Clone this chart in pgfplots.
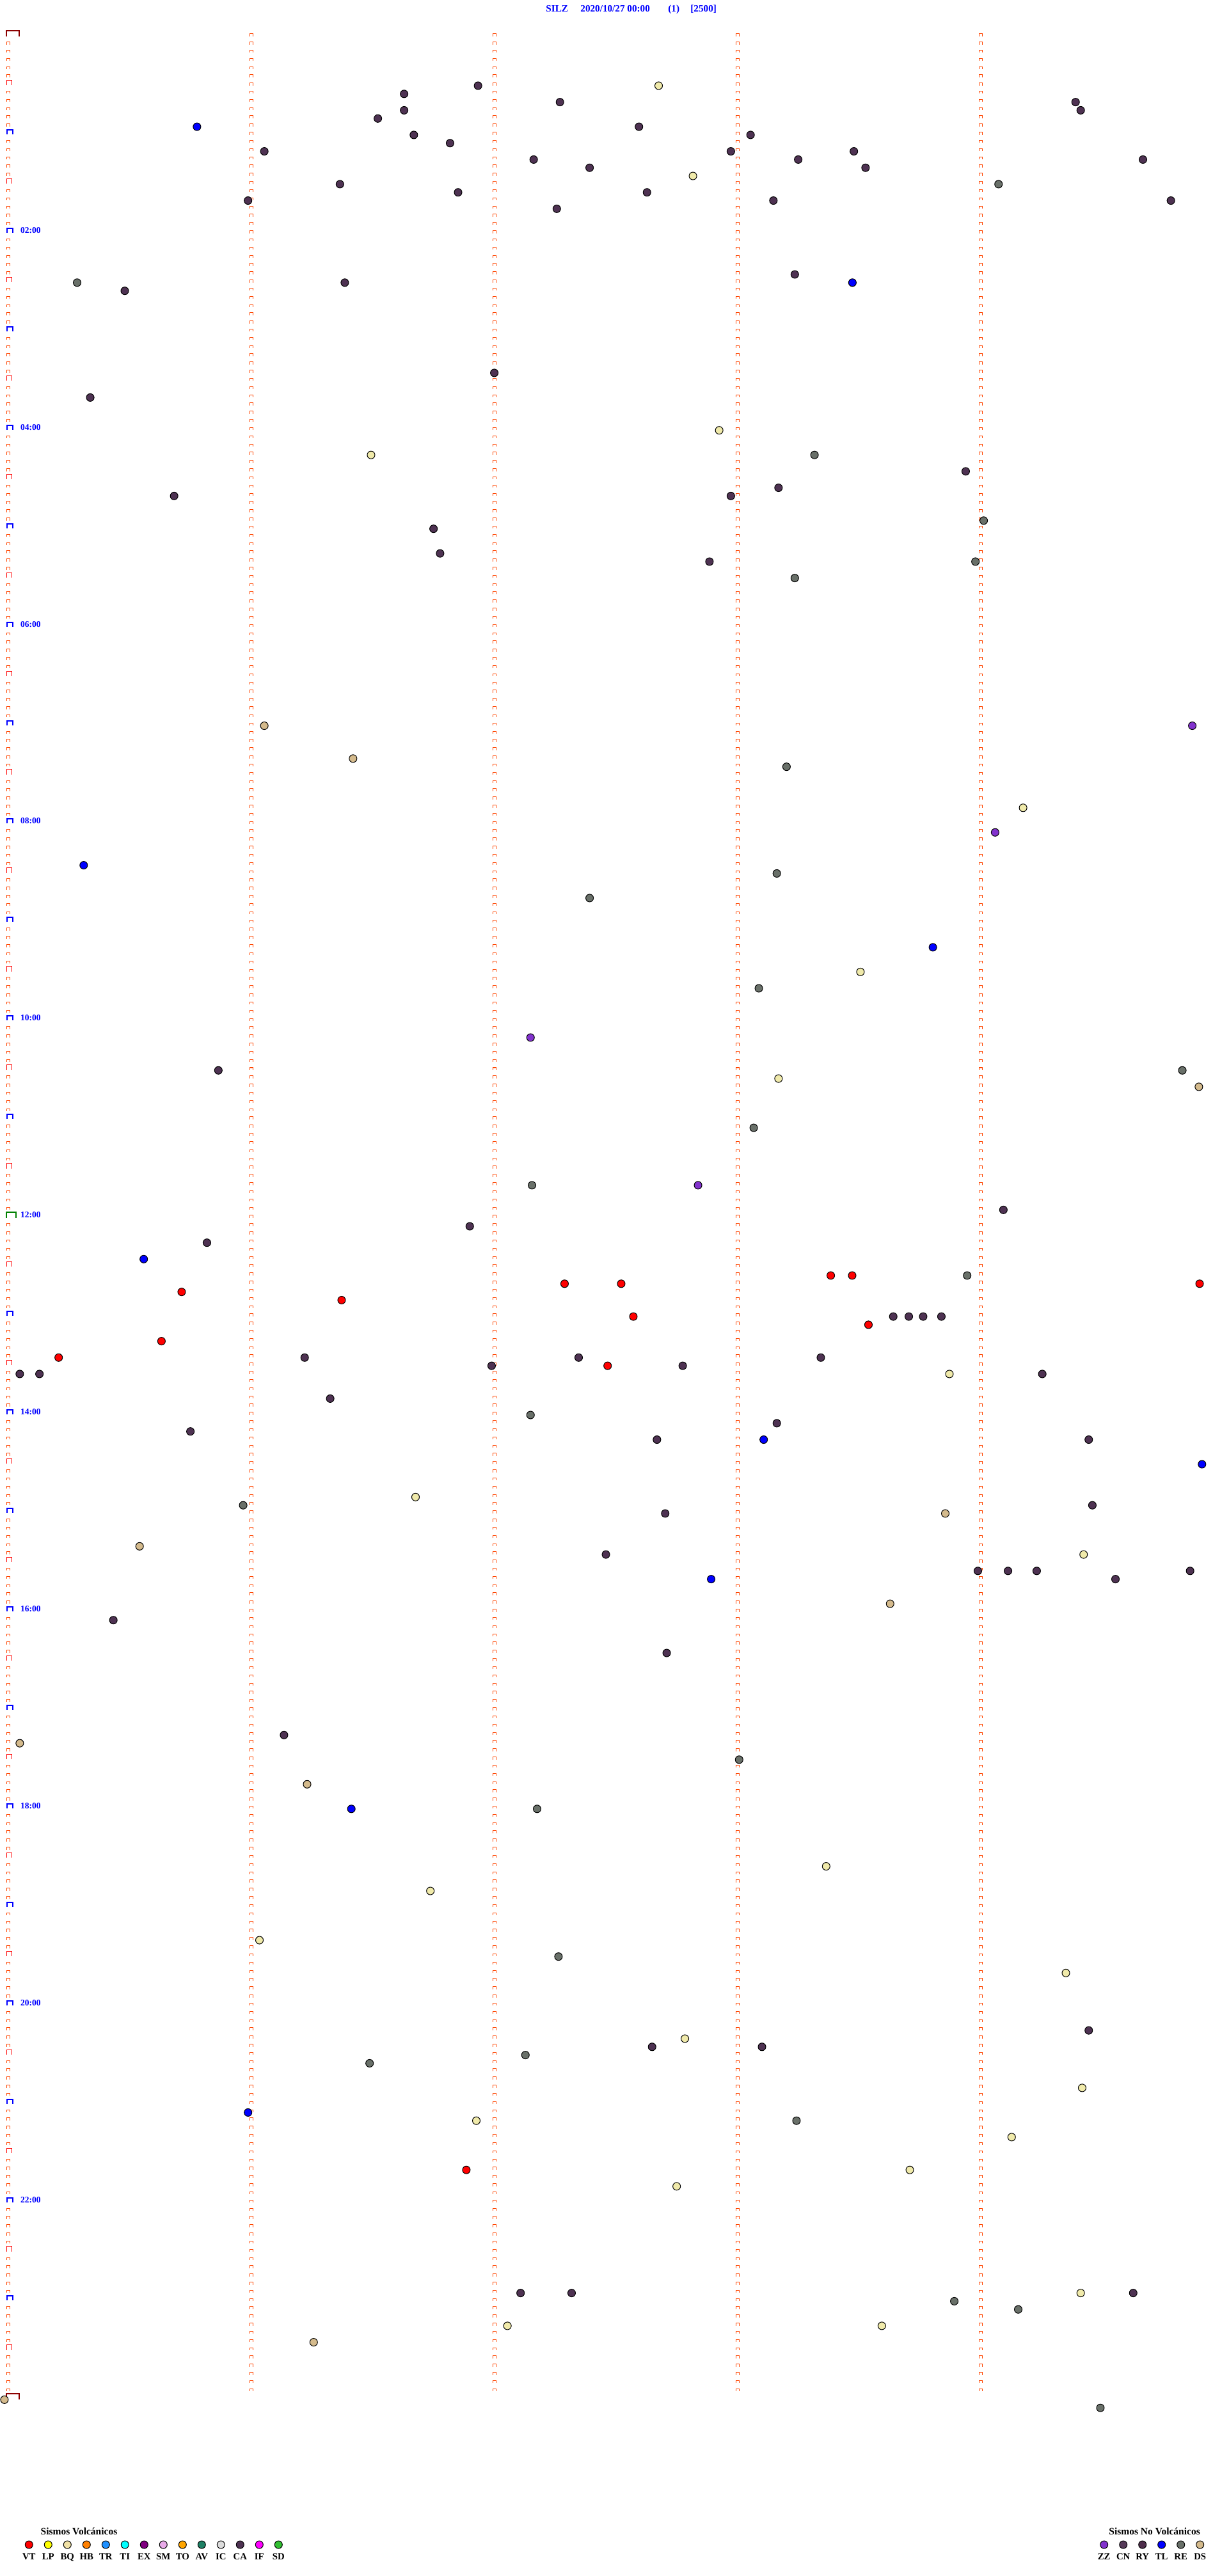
\documentclass[border=0pt]{standalone}
\usepackage{pgfplots}
\pgfplotsset{compat=1.18}
\usepackage{fontspec}
\setmainfont{Liberation Serif}
\definecolor{ca}{RGB}{78,50,82}
\definecolor{re}{RGB}{105,112,105}
\definecolor{tl}{RGB}{0,0,255}
\definecolor{bq}{RGB}{240,234,170}
\definecolor{ds}{RGB}{212,186,140}
\definecolor{vt}{RGB}{255,0,0}
\definecolor{zz}{RGB}{130,50,205}
\definecolor{lp}{RGB}{255,255,0}
\definecolor{bql}{RGB}{240,225,165}
\definecolor{hb}{RGB}{255,128,0}
\definecolor{tr}{RGB}{30,144,255}
\definecolor{ti}{RGB}{0,255,255}
\definecolor{ex}{RGB}{128,0,128}
\definecolor{sm}{RGB}{232,170,232}
\definecolor{to}{RGB}{255,165,0}
\definecolor{av}{RGB}{30,128,100}
\definecolor{ic}{RGB}{220,220,220}
\definecolor{ifc}{RGB}{255,0,255}
\definecolor{sd}{RGB}{50,190,50}
\definecolor{cn}{RGB}{85,58,88}
\definecolor{ry}{RGB}{78,45,75}
\definecolor{markorange}{RGB}{255,69,0}
\definecolor{mdarkred}{RGB}{140,0,0}
\definecolor{mgreen}{RGB}{0,128,0}
\definecolor{mblue}{RGB}{0,0,255}
\definecolor{mred}{RGB}{255,0,0}
% row markers of the first column
\pgfdeclareplotmark{hourmk}{%
  \pgfsetfillcolor{white}\pgfpathrectangle{\pgfpoint{-1.75pt}{0pt}}{\pgfpoint{5.75pt}{4.5pt}}\pgfusepath{fill}%
  \pgfsetstrokecolor{mblue}\pgfsetlinewidth{1pt}%
  \pgfpathmoveto{\pgfpoint{-1.25pt}{0.5pt}}\pgfpathlineto{\pgfpoint{-1.25pt}{4pt}}%
  \pgfpathlineto{\pgfpoint{3.5pt}{4pt}}\pgfpathlineto{\pgfpoint{3.5pt}{0.5pt}}\pgfusepath{stroke}}
\pgfdeclareplotmark{halfmk}{%
  \pgfsetfillcolor{white}\pgfpathrectangle{\pgfpoint{-1.75pt}{0pt}}{\pgfpoint{4.75pt}{4.5pt}}\pgfusepath{fill}%
  \pgfsetstrokecolor{mred}\pgfsetlinewidth{0.5pt}%
  \pgfpathmoveto{\pgfpoint{-1.25pt}{0.35pt}}\pgfpathlineto{\pgfpoint{-1.25pt}{4.25pt}}%
  \pgfpathlineto{\pgfpoint{2.75pt}{4.25pt}}\pgfpathlineto{\pgfpoint{2.75pt}{0.35pt}}\pgfusepath{stroke}}
\pgfdeclareplotmark{noonmk}{%
  \pgfsetfillcolor{white}\pgfpathrectangle{\pgfpoint{-2pt}{0pt}}{\pgfpoint{8.5pt}{5pt}}\pgfusepath{fill}%
  \pgfsetstrokecolor{mgreen}\pgfsetlinewidth{1pt}%
  \pgfpathmoveto{\pgfpoint{-1.5pt}{0pt}}\pgfpathlineto{\pgfpoint{-1.5pt}{4.5pt}}%
  \pgfpathlineto{\pgfpoint{5.85pt}{4.5pt}}\pgfpathlineto{\pgfpoint{5.85pt}{0pt}}\pgfusepath{stroke}}
\pgfdeclareplotmark{daymk}{%
  \pgfsetfillcolor{white}\pgfpathrectangle{\pgfpoint{-2pt}{0pt}}{\pgfpoint{11pt}{5pt}}\pgfusepath{fill}%
  \pgfsetstrokecolor{mdarkred}\pgfsetlinewidth{1pt}%
  \pgfpathmoveto{\pgfpoint{-1.5pt}{0pt}}\pgfpathlineto{\pgfpoint{-1.5pt}{4.5pt}}%
  \pgfpathlineto{\pgfpoint{8.5pt}{4.5pt}}\pgfpathlineto{\pgfpoint{8.5pt}{0pt}}\pgfusepath{stroke}}
\pgfplotsset{
  dot/.style={only marks, mark=*, mark size=3pt, mark options={draw=black, line width=0.5pt, fill=#1}},
  colA/.style={draw=markorange, line width=3pt, dash pattern=on 2.25pt off 4.16375pt, mark=none},
  colB/.style={draw=white, line width=2pt, dash pattern=on 1.75pt off 4.66375pt, dash phase=5.91375pt, mark=none},
}
\begin{document}
\begin{tikzpicture}
\begin{axis}[
  width=960pt, height=2013.5pt, scale only axis,
  xmin=-0.034211, xmax=5.018421,
  ymin=-4.4436, ymax=309.49, y dir=reverse,
  hide axis, clip=false,
]
\path (axis cs:-0.034211,-4.4436) rectangle (axis cs:5.018421,309.49);
% column guides (one marker per 5-minute row)
\addplot[colA] coordinates {(0,-0.374) (0,287.6)};
\addplot[colB] coordinates {(0,-0.374) (0,287.6)};
\addplot[colA] coordinates {(1,-0.374) (1,287.6)};
\addplot[colB] coordinates {(1,-0.374) (1,287.6)};
\addplot[colA] coordinates {(2,-0.374) (2,287.6)};
\addplot[colB] coordinates {(2,-0.374) (2,287.6)};
\addplot[colA] coordinates {(3,-0.374) (3,287.6)};
\addplot[colB] coordinates {(3,-0.374) (3,287.6)};
\addplot[colA] coordinates {(4,-0.374) (4,287.6)};
\addplot[colB] coordinates {(4,-0.374) (4,287.6)};
% hour / half-hour markers
\addplot[only marks, mark=halfmk] coordinates {(0,6) (0,18) (0,30) (0,42) (0,54) (0,66) (0,78) (0,90) (0,102) (0,114) (0,126) (0,138) (0,150) (0,162) (0,174) (0,186) (0,198) (0,210) (0,222) (0,234) (0,246) (0,258) (0,270) (0,282)};
\addplot[only marks, mark=hourmk] coordinates {(0,12) (0,24) (0,36) (0,48) (0,60) (0,72) (0,84) (0,96) (0,108) (0,120) (0,132) (0,156) (0,168) (0,180) (0,192) (0,204) (0,216) (0,228) (0,240) (0,252) (0,264) (0,276)};
\addplot[only marks, mark=noonmk] coordinates {(0,144)};
\addplot[only marks, mark=daymk] coordinates {(0,0) (0,288)};
% hour labels
\begin{scope}[every node/.style={anchor=base west, inner sep=0pt, text=mblue, font=\fontsize{6.75pt}{8pt}\selectfont\bfseries}]
\node at (axis cs:0.0492,23.96) {02:00};
\node at (axis cs:0.0492,47.96) {04:00};
\node at (axis cs:0.0492,71.96) {06:00};
\node at (axis cs:0.0492,95.96) {08:00};
\node at (axis cs:0.0492,119.96) {10:00};
\node at (axis cs:0.0492,143.96) {12:00};
\node at (axis cs:0.0492,167.96) {14:00};
\node at (axis cs:0.0492,191.96) {16:00};
\node at (axis cs:0.0492,215.96) {18:00};
\node at (axis cs:0.0492,239.96) {20:00};
\node at (axis cs:0.0492,263.96) {22:00};
\end{scope}
% title
\begin{scope}[every node/.style={anchor=base west, inner sep=0pt, text=mblue, font=\fontsize{7.6pt}{9pt}\selectfont\bfseries}]
\node at (axis cs:2.2105,-3.04) {SILZ};
\node at (axis cs:2.3526,-3.04) {2020/10/27 00:00};
\node at (axis cs:2.7132,-3.04) {(1)};
\node at (axis cs:2.8053,-3.04) {[2500]};
\end{scope}
% events: x = minute within the 5-minute row, y = row number (5-minute rows from 00:00)
\addplot[dot=ca] coordinates {
(1.932,6) (1.628,7) (2.269,8) (4.390,8) (1.628,9) (4.411,9) (1.520,10) (2.594,11)
(1.668,12) (3.053,12) (1.817,13) (1.053,14) (2.972,14) (3.478,14) (2.161,15) (3.249,15)
(4.667,15) (2.391,16) (3.526,16) (1.364,18) (1.850,19) (2.627,19) (0.986,20) (3.147,20)
(4.782,20) (2.256,21) (3.235,29) (1.384,30) (0.479,31) (1.999,41) (0.337,44) (3.938,53)
(3.168,55) (0.682,56) (2.972,56) (1.749,60) (1.776,63) (2.884,64) (0.864,126) (4.093,143)
(1.898,145) (0.817,147) (3.640,156) (3.704,156) (3.763,156) (3.838,156) (1.219,161) (2.346,161)
(3.342,161) (1.988,162) (2.774,162) (0.047,163) (0.128,163) (4.253,163) (1.324,166) (3.161,169)
(0.749,170) (2.668,171) (4.444,171) (4.459,179) (2.702,180) (2.458,185) (3.988,187) (4.112,187)
(4.230,187) (4.861,187) (4.554,188) (0.432,193) (2.708,197) (1.134,207) (4.444,243) (2.648,245)
(3.100,245) (2.107,275) (2.317,275) (4.627,275)};
\addplot[dot=re] coordinates {
(4.073,18) (0.283,30) (3.316,51) (4.012,59) (3.978,64) (3.235,66) (3.201,89) (3.161,102)
(2.391,105) (3.087,116) (4.829,126) (3.066,133) (2.154,140) (3.944,151) (2.148,168) (0.966,179)
(3.006,210) (2.175,216) (2.263,234) (2.127,246) (1.486,247) (3.242,254) (3.891,276) (4.154,277)
(4.492,289)};
\addplot[dot=tl] coordinates {
(0.776,11) (3.472,30) (0.310,101) (3.803,111) (0.557,149) (3.107,171) (4.910,174) (2.891,188)
(1.411,216) (0.986,253)};
\addplot[dot=bq] coordinates {
(2.675,6) (2.816,17) (2.924,48) (1.492,51) (4.174,94) (3.505,114) (3.168,127) (3.871,163)
(1.675,178) (4.423,185) (3.364,223) (1.736,226) (1.033,232) (4.350,236) (2.783,244) (4.417,250)
(1.925,254) (4.127,256) (3.708,260) (2.749,262) (4.411,275) (2.053,279) (3.593,279)};
\addplot[dot=ds] coordinates {
(1.053,84) (1.418,88) (4.897,128) (3.854,180) (0.540,184) (3.627,191) (0.047,208) (1.229,213)
(1.256,281) (-0.016,288)};
\addplot[dot=vt] coordinates {
(3.383,151) (3.471,151) (2.288,152) (2.521,152) (4.900,152) (0.713,153) (1.371,154) (2.571,156)
(3.538,157) (0.630,159) (0.207,161) (2.465,162) (1.884,260)};
\addplot[dot=zz] coordinates {(4.870,84) (4.059,97) (2.148,122) (2.837,140)};
% legend
\addplot[dot=vt] coordinates {(0.0850,305.67)};
\addplot[dot=lp] coordinates {(0.1639,305.67)};
\addplot[dot=bql] coordinates {(0.2429,305.67)};
\addplot[dot=hb] coordinates {(0.3218,305.67)};
\addplot[dot=tr] coordinates {(0.4008,305.67)};
\addplot[dot=ti] coordinates {(0.4797,305.67)};
\addplot[dot=ex] coordinates {(0.5587,305.67)};
\addplot[dot=sm] coordinates {(0.6376,305.67)};
\addplot[dot=to] coordinates {(0.7166,305.67)};
\addplot[dot=av] coordinates {(0.7955,305.67)};
\addplot[dot=ic] coordinates {(0.8745,305.67)};
\addplot[dot=ca] coordinates {(0.9534,305.67)};
\addplot[dot=ifc] coordinates {(1.0324,305.67)};
\addplot[dot=sd] coordinates {(1.1113,305.67)};
\addplot[dot=zz] coordinates {(4.5071,305.67)};
\addplot[dot=cn] coordinates {(4.5861,305.67)};
\addplot[dot=ry] coordinates {(4.6650,305.67)};
\addplot[dot=tl] coordinates {(4.7439,305.67)};
\addplot[dot=re] coordinates {(4.8229,305.67)};
\addplot[dot=ds] coordinates {(4.9018,305.67)};
\begin{scope}[every node/.style={inner sep=0pt, font=\fontsize{7.75pt}{9pt}\selectfont\bfseries}]
\node[anchor=base west] at (axis cs:0.1324,304.45) {Sismos Volcánicos};
\node[anchor=base west] at (axis cs:4.5263,304.45) {Sismos No Volcánicos};
\end{scope}
\begin{scope}[every node/.style={anchor=base, inner sep=0pt, font=\fontsize{7.4pt}{9pt}\selectfont\bfseries}]
\node at (axis cs:0.0850,307.52) {VT};
\node at (axis cs:0.1639,307.52) {LP};
\node at (axis cs:0.2429,307.52) {BQ};
\node at (axis cs:0.3218,307.52) {HB};
\node at (axis cs:0.4008,307.52) {TR};
\node at (axis cs:0.4797,307.52) {TI};
\node at (axis cs:0.5587,307.52) {EX};
\node at (axis cs:0.6376,307.52) {SM};
\node at (axis cs:0.7166,307.52) {TO};
\node at (axis cs:0.7955,307.52) {AV};
\node at (axis cs:0.8745,307.52) {IC};
\node at (axis cs:0.9534,307.52) {CA};
\node at (axis cs:1.0324,307.52) {IF};
\node at (axis cs:1.1113,307.52) {SD};
\node at (axis cs:4.5071,307.52) {ZZ};
\node at (axis cs:4.5861,307.52) {CN};
\node at (axis cs:4.6650,307.52) {RY};
\node at (axis cs:4.7439,307.52) {TL};
\node at (axis cs:4.8229,307.52) {RE};
\node at (axis cs:4.9018,307.52) {DS};
\end{scope}
\end{axis}
\end{tikzpicture}
\end{document}
